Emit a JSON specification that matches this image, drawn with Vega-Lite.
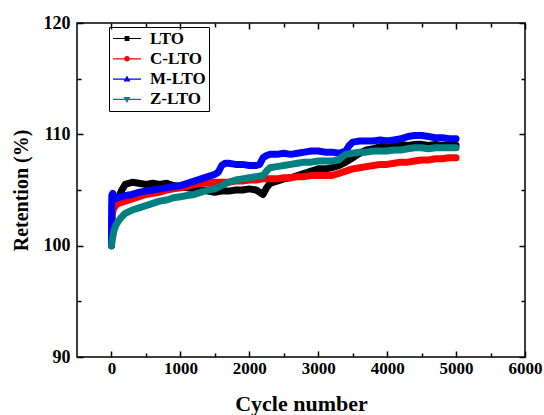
{
"$schema": "https://vega.github.io/schema/vega-lite/v6.json",
"width": 448, "height": 334,
"autosize": {"type": "none"},
"padding": {"left": 77, "top": 23, "right": 19, "bottom": 58},
"background": "white",
"config": {
  "view": {"stroke": "black", "strokeWidth": 1.5},
  "font": "Liberation Serif",
  "axis": {"grid": false, "domain": false, "labelColor": "black", "titleColor": "black",
           "labelFont": "Liberation Serif", "labelFontWeight": "bold", "titleFont": "Liberation Serif", "titleFontWeight": "bold",
           "labelFlush": false, "labelOverlap": false, "labelBound": false},
  "legend": {"labelFont": "Liberation Serif", "labelFontWeight": "bold", "labelFontSize": 17, "labelColor": "black"}
},
"data": {"values": [
{"s":"LTO","c":0,"v":100.0},{"s":"LTO","c":10,"v":103.5},{"s":"LTO","c":30,"v":104.0},{"s":"LTO","c":60,"v":103.8},{"s":"LTO","c":100,"v":104.3},{"s":"LTO","c":150,"v":105.0},{"s":"LTO","c":200,"v":105.5},{"s":"LTO","c":300,"v":105.7},{"s":"LTO","c":400,"v":105.6},{"s":"LTO","c":500,"v":105.5},{"s":"LTO","c":600,"v":105.6},{"s":"LTO","c":700,"v":105.5},{"s":"LTO","c":800,"v":105.6},{"s":"LTO","c":900,"v":105.4},{"s":"LTO","c":1000,"v":105.3},{"s":"LTO","c":1100,"v":105.2},{"s":"LTO","c":1200,"v":105.1},{"s":"LTO","c":1300,"v":105.0},{"s":"LTO","c":1400,"v":104.9},{"s":"LTO","c":1500,"v":104.8},{"s":"LTO","c":1600,"v":104.9},{"s":"LTO","c":1700,"v":104.9},{"s":"LTO","c":1800,"v":105.0},{"s":"LTO","c":1900,"v":105.0},{"s":"LTO","c":2000,"v":105.1},{"s":"LTO","c":2100,"v":105.0},{"s":"LTO","c":2150,"v":104.8},{"s":"LTO","c":2200,"v":104.6},{"s":"LTO","c":2250,"v":105.2},{"s":"LTO","c":2300,"v":105.6},{"s":"LTO","c":2400,"v":105.8},{"s":"LTO","c":2500,"v":106.0},{"s":"LTO","c":2600,"v":106.1},{"s":"LTO","c":2700,"v":106.3},{"s":"LTO","c":2800,"v":106.5},{"s":"LTO","c":2900,"v":106.7},{"s":"LTO","c":3000,"v":106.9},{"s":"LTO","c":3100,"v":106.9},{"s":"LTO","c":3200,"v":107.0},{"s":"LTO","c":3300,"v":107.2},{"s":"LTO","c":3400,"v":107.5},{"s":"LTO","c":3500,"v":107.9},{"s":"LTO","c":3600,"v":108.3},{"s":"LTO","c":3700,"v":108.6},{"s":"LTO","c":3800,"v":108.7},{"s":"LTO","c":3900,"v":108.9},{"s":"LTO","c":4000,"v":109.0},{"s":"LTO","c":4100,"v":109.0},{"s":"LTO","c":4200,"v":109.1},{"s":"LTO","c":4300,"v":109.0},{"s":"LTO","c":4400,"v":109.1},{"s":"LTO","c":4500,"v":109.1},{"s":"LTO","c":4600,"v":109.0},{"s":"LTO","c":4700,"v":109.1},{"s":"LTO","c":4800,"v":109.0},{"s":"LTO","c":4900,"v":109.1},{"s":"LTO","c":5000,"v":109.0},
{"s":"C-LTO","c":0,"v":100.0},{"s":"C-LTO","c":10,"v":102.8},{"s":"C-LTO","c":30,"v":103.3},{"s":"C-LTO","c":60,"v":103.6},{"s":"C-LTO","c":100,"v":103.8},{"s":"C-LTO","c":200,"v":104.0},{"s":"C-LTO","c":300,"v":104.2},{"s":"C-LTO","c":400,"v":104.4},{"s":"C-LTO","c":500,"v":104.6},{"s":"C-LTO","c":600,"v":104.7},{"s":"C-LTO","c":700,"v":104.8},{"s":"C-LTO","c":800,"v":105.0},{"s":"C-LTO","c":900,"v":105.1},{"s":"C-LTO","c":1000,"v":105.2},{"s":"C-LTO","c":1100,"v":105.3},{"s":"C-LTO","c":1200,"v":105.5},{"s":"C-LTO","c":1300,"v":105.6},{"s":"C-LTO","c":1400,"v":105.6},{"s":"C-LTO","c":1500,"v":105.7},{"s":"C-LTO","c":1600,"v":105.7},{"s":"C-LTO","c":1700,"v":105.7},{"s":"C-LTO","c":1800,"v":105.8},{"s":"C-LTO","c":1900,"v":105.8},{"s":"C-LTO","c":2000,"v":105.9},{"s":"C-LTO","c":2100,"v":105.9},{"s":"C-LTO","c":2200,"v":106.0},{"s":"C-LTO","c":2300,"v":106.0},{"s":"C-LTO","c":2400,"v":106.0},{"s":"C-LTO","c":2500,"v":106.1},{"s":"C-LTO","c":2600,"v":106.1},{"s":"C-LTO","c":2700,"v":106.2},{"s":"C-LTO","c":2800,"v":106.2},{"s":"C-LTO","c":2900,"v":106.3},{"s":"C-LTO","c":3000,"v":106.3},{"s":"C-LTO","c":3100,"v":106.3},{"s":"C-LTO","c":3200,"v":106.3},{"s":"C-LTO","c":3300,"v":106.5},{"s":"C-LTO","c":3400,"v":106.7},{"s":"C-LTO","c":3500,"v":106.9},{"s":"C-LTO","c":3600,"v":107.0},{"s":"C-LTO","c":3700,"v":107.1},{"s":"C-LTO","c":3800,"v":107.2},{"s":"C-LTO","c":3900,"v":107.3},{"s":"C-LTO","c":4000,"v":107.3},{"s":"C-LTO","c":4100,"v":107.4},{"s":"C-LTO","c":4200,"v":107.5},{"s":"C-LTO","c":4300,"v":107.5},{"s":"C-LTO","c":4400,"v":107.6},{"s":"C-LTO","c":4500,"v":107.7},{"s":"C-LTO","c":4600,"v":107.7},{"s":"C-LTO","c":4700,"v":107.8},{"s":"C-LTO","c":4800,"v":107.8},{"s":"C-LTO","c":4900,"v":107.9},{"s":"C-LTO","c":5000,"v":107.9},
{"s":"M-LTO","c":0,"v":100.0},{"s":"M-LTO","c":5,"v":104.5},{"s":"M-LTO","c":20,"v":104.7},{"s":"M-LTO","c":50,"v":104.2},{"s":"M-LTO","c":100,"v":104.3},{"s":"M-LTO","c":200,"v":104.5},{"s":"M-LTO","c":300,"v":104.6},{"s":"M-LTO","c":400,"v":104.8},{"s":"M-LTO","c":500,"v":104.9},{"s":"M-LTO","c":600,"v":105.0},{"s":"M-LTO","c":700,"v":105.1},{"s":"M-LTO","c":800,"v":105.2},{"s":"M-LTO","c":900,"v":105.3},{"s":"M-LTO","c":1000,"v":105.4},{"s":"M-LTO","c":1100,"v":105.6},{"s":"M-LTO","c":1200,"v":105.8},{"s":"M-LTO","c":1300,"v":106.0},{"s":"M-LTO","c":1400,"v":106.2},{"s":"M-LTO","c":1500,"v":106.4},{"s":"M-LTO","c":1550,"v":106.6},{"s":"M-LTO","c":1600,"v":107.2},{"s":"M-LTO","c":1650,"v":107.4},{"s":"M-LTO","c":1700,"v":107.4},{"s":"M-LTO","c":1800,"v":107.3},{"s":"M-LTO","c":1900,"v":107.3},{"s":"M-LTO","c":2000,"v":107.2},{"s":"M-LTO","c":2100,"v":107.2},{"s":"M-LTO","c":2150,"v":107.3},{"s":"M-LTO","c":2200,"v":107.9},{"s":"M-LTO","c":2250,"v":108.1},{"s":"M-LTO","c":2300,"v":108.2},{"s":"M-LTO","c":2400,"v":108.2},{"s":"M-LTO","c":2500,"v":108.3},{"s":"M-LTO","c":2600,"v":108.2},{"s":"M-LTO","c":2700,"v":108.3},{"s":"M-LTO","c":2800,"v":108.4},{"s":"M-LTO","c":2900,"v":108.5},{"s":"M-LTO","c":3000,"v":108.5},{"s":"M-LTO","c":3100,"v":108.4},{"s":"M-LTO","c":3200,"v":108.4},{"s":"M-LTO","c":3300,"v":108.3},{"s":"M-LTO","c":3400,"v":108.5},{"s":"M-LTO","c":3450,"v":109.0},{"s":"M-LTO","c":3500,"v":109.3},{"s":"M-LTO","c":3600,"v":109.4},{"s":"M-LTO","c":3700,"v":109.4},{"s":"M-LTO","c":3800,"v":109.4},{"s":"M-LTO","c":3900,"v":109.5},{"s":"M-LTO","c":4000,"v":109.4},{"s":"M-LTO","c":4100,"v":109.5},{"s":"M-LTO","c":4200,"v":109.6},{"s":"M-LTO","c":4300,"v":109.8},{"s":"M-LTO","c":4400,"v":109.9},{"s":"M-LTO","c":4500,"v":109.9},{"s":"M-LTO","c":4600,"v":109.8},{"s":"M-LTO","c":4700,"v":109.7},{"s":"M-LTO","c":4800,"v":109.7},{"s":"M-LTO","c":4900,"v":109.6},{"s":"M-LTO","c":5000,"v":109.6},
{"s":"Z-LTO","c":0,"v":100.0},{"s":"Z-LTO","c":10,"v":100.5},{"s":"Z-LTO","c":30,"v":101.2},{"s":"Z-LTO","c":60,"v":101.8},{"s":"Z-LTO","c":100,"v":102.2},{"s":"Z-LTO","c":150,"v":102.6},{"s":"Z-LTO","c":200,"v":102.9},{"s":"Z-LTO","c":300,"v":103.2},{"s":"Z-LTO","c":400,"v":103.4},{"s":"Z-LTO","c":500,"v":103.6},{"s":"Z-LTO","c":600,"v":103.8},{"s":"Z-LTO","c":700,"v":104.0},{"s":"Z-LTO","c":800,"v":104.1},{"s":"Z-LTO","c":900,"v":104.3},{"s":"Z-LTO","c":1000,"v":104.4},{"s":"Z-LTO","c":1100,"v":104.5},{"s":"Z-LTO","c":1200,"v":104.6},{"s":"Z-LTO","c":1300,"v":104.8},{"s":"Z-LTO","c":1400,"v":105.0},{"s":"Z-LTO","c":1500,"v":105.1},{"s":"Z-LTO","c":1600,"v":105.4},{"s":"Z-LTO","c":1700,"v":105.7},{"s":"Z-LTO","c":1800,"v":105.9},{"s":"Z-LTO","c":1900,"v":106.0},{"s":"Z-LTO","c":2000,"v":106.1},{"s":"Z-LTO","c":2100,"v":106.2},{"s":"Z-LTO","c":2200,"v":106.3},{"s":"Z-LTO","c":2250,"v":106.7},{"s":"Z-LTO","c":2300,"v":107.0},{"s":"Z-LTO","c":2400,"v":107.1},{"s":"Z-LTO","c":2500,"v":107.2},{"s":"Z-LTO","c":2600,"v":107.3},{"s":"Z-LTO","c":2700,"v":107.4},{"s":"Z-LTO","c":2800,"v":107.5},{"s":"Z-LTO","c":2900,"v":107.5},{"s":"Z-LTO","c":3000,"v":107.6},{"s":"Z-LTO","c":3100,"v":107.6},{"s":"Z-LTO","c":3200,"v":107.6},{"s":"Z-LTO","c":3300,"v":107.7},{"s":"Z-LTO","c":3350,"v":108.0},{"s":"Z-LTO","c":3400,"v":108.2},{"s":"Z-LTO","c":3500,"v":108.3},{"s":"Z-LTO","c":3600,"v":108.4},{"s":"Z-LTO","c":3700,"v":108.4},{"s":"Z-LTO","c":3800,"v":108.5},{"s":"Z-LTO","c":3900,"v":108.5},{"s":"Z-LTO","c":4000,"v":108.5},{"s":"Z-LTO","c":4100,"v":108.6},{"s":"Z-LTO","c":4200,"v":108.6},{"s":"Z-LTO","c":4300,"v":108.7},{"s":"Z-LTO","c":4400,"v":108.8},{"s":"Z-LTO","c":4500,"v":108.8},{"s":"Z-LTO","c":4600,"v":108.7},{"s":"Z-LTO","c":4700,"v":108.8},{"s":"Z-LTO","c":4800,"v":108.8},{"s":"Z-LTO","c":4900,"v":108.8},{"s":"Z-LTO","c":5000,"v":108.8}
]},
"layer": [
  {
    "mark": {"type": "line", "strokeWidth": 7, "strokeJoin": "round", "strokeCap": "round"},
    "encoding": {
      "x": {"field": "c", "type": "quantitative", "scale": {"domain": [-500, 6000], "nice": false, "zero": false},
            "axis": {"orient": "bottom", "values": [0,1000,2000,3000,4000,5000,6000], "format": "d",
                     "offset": -6, "tickSize": 6, "tickWidth": 1.5, "tickColor": "#000000", "ticks": true,
                     "labelFontSize": 17, "labelPadding": 3, "title": "Cycle number", "titleFontSize": 22, "titlePadding": 17}},
      "y": {"field": "v", "type": "quantitative", "scale": {"domain": [90, 120], "nice": false, "zero": false},
            "axis": {"orient": "left", "values": [90,100,110,120],
                     "offset": -6, "tickSize": 6, "tickWidth": 1.5, "tickColor": "#000000", "ticks": true,
                     "labelFontSize": 18, "labelPadding": 7, "title": "Retention (%)", "titleFontSize": 20, "titlePadding": 12}},
      "color": {"field": "s", "type": "nominal", "scale": {"domain": ["LTO","C-LTO","M-LTO","Z-LTO"], "range": ["#000000","#ff0000","#0000ff","#008080"]},
                "legend": {"orient": "none", "legendX": 32, "legendY": 4, "title": null, "strokeColor": "black", "padding": 3,
                           "symbolSize": 784, "clipHeight": 17, "rowPadding": 2.3, "labelOffset": 8, "symbolOpacity": 1, "symbolStrokeWidth": 1.2,
                           "encode": {"symbols": {"update": {"stroke": {"scale": "color", "field": "value"}, "opacity": {"value": 1}, "fillOpacity": {"value": 1}, "strokeOpacity": {"value": 1}}}}}}
    }
  },
  {
    "mark": {"type": "point", "filled": true, "opacity": 0},
    "encoding": {
      "x": {"field": "c", "type": "quantitative",
            "axis": {"orient": "top", "values": [0,1000,2000,3000,4000,5000,6000], "labels": false, "title": null, "offset": -6, "tickSize": 6, "tickWidth": 1.5, "tickColor": "#000000", "ticks": true}},
      "y": {"field": "v", "type": "quantitative",
            "axis": {"orient": "right", "values": [90,100,110,120], "labels": false, "title": null, "offset": -6, "tickSize": 6, "tickWidth": 1.5, "tickColor": "#000000", "ticks": true}},
      "color": {"field": "s", "type": "nominal", "scale": {"domain": ["LTO","C-LTO","M-LTO","Z-LTO"], "range": ["#000000","#ff0000","#0000ff","#008080"]},
                "legend": {"orient": "none", "legendX": 32, "legendY": 4, "title": null, "strokeColor": "black", "padding": 3,
                           "symbolSize": 784, "clipHeight": 17, "rowPadding": 2.3, "labelOffset": 8, "symbolOpacity": 1, "symbolStrokeWidth": 1.2,
                           "encode": {"symbols": {"update": {"stroke": {"scale": "color", "field": "value"}, "opacity": {"value": 1}, "fillOpacity": {"value": 1}, "strokeOpacity": {"value": 1}}}}}},
      "shape": {"field": "s", "type": "nominal",
                "scale": {"domain": ["LTO","C-LTO","M-LTO","Z-LTO"],
                          "range": ["M-1,0H1M-0.13,-0.13H0.13V0.13H-0.13Z",
                                    "M-1,0H1M-0.15,0A0.15,0.15,0,1,1,0.15,0A0.15,0.15,0,1,1,-0.15,0Z",
                                    "M-1,0H1M0,-0.17L0.17,0.12H-0.17Z",
                                    "M-1,0H1M0,0.17L0.17,-0.12H-0.17Z"]},
                "legend": {"orient": "none", "legendX": 32, "legendY": 4, "title": null, "strokeColor": "black", "padding": 3,
                           "symbolSize": 784, "clipHeight": 17, "rowPadding": 2.3, "labelOffset": 8, "symbolOpacity": 1, "symbolStrokeWidth": 1.2,
                           "encode": {"symbols": {"update": {"stroke": {"scale": "color", "field": "value"}, "opacity": {"value": 1}, "fillOpacity": {"value": 1}, "strokeOpacity": {"value": 1}}}}}}
    }
  },
  {
    "mark": {"type": "point", "opacity": 0},
    "encoding": {
      "x": {"field": "c", "type": "quantitative",
            "axis": {"orient": "bottom", "values": [500,1500,2500,3500,4500,5500], "labels": false, "title": null, "offset": -4, "tickSize": 4, "tickWidth": 1.5, "tickColor": "#000000", "ticks": true}},
      "y": {"field": "v", "type": "quantitative",
            "axis": {"orient": "left", "values": [95,105,115], "labels": false, "title": null, "offset": -4, "tickSize": 4, "tickWidth": 1.5, "tickColor": "#000000", "ticks": true}}
    }
  },
  {
    "mark": {"type": "point", "opacity": 0},
    "encoding": {
      "x": {"field": "c", "type": "quantitative",
            "axis": {"orient": "top", "values": [500,1500,2500,3500,4500,5500], "labels": false, "title": null, "offset": -4, "tickSize": 4, "tickWidth": 1.5, "tickColor": "#000000", "ticks": true}},
      "y": {"field": "v", "type": "quantitative",
            "axis": {"orient": "right", "values": [95,105,115], "labels": false, "title": null, "offset": -4, "tickSize": 4, "tickWidth": 1.5, "tickColor": "#000000", "ticks": true}}
    }
  }
],
"resolve": {"axis": {"x": "independent", "y": "independent"}}
}
